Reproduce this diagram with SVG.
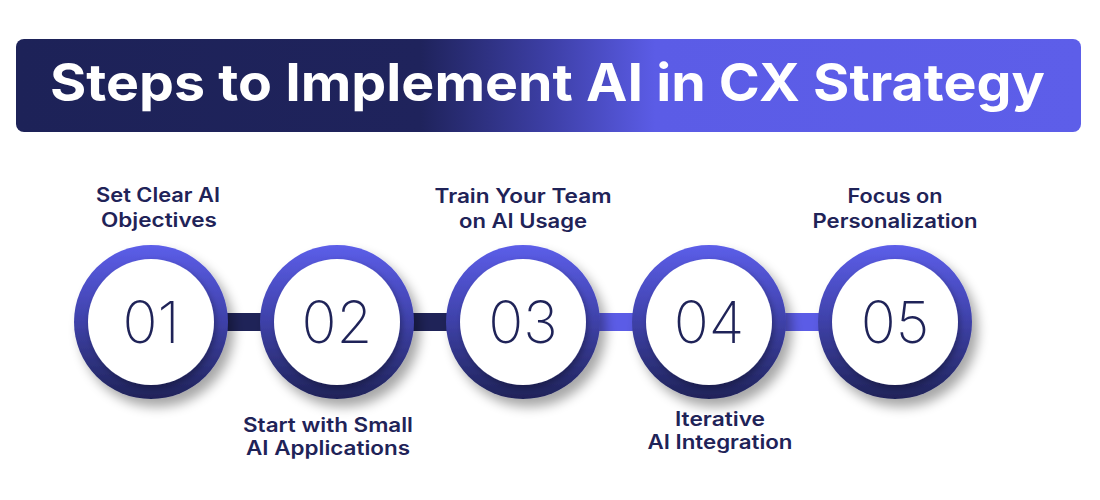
<svg xmlns="http://www.w3.org/2000/svg" width="1100" height="500" viewBox="0 0 1100 500">
<defs>
<linearGradient id="bannerGrad" x1="0" y1="0" x2="1" y2="0">
<stop offset="0" stop-color="#1d2258"/>
<stop offset="0.38" stop-color="#1f235c"/>
<stop offset="0.5" stop-color="#3d3fa6"/>
<stop offset="0.6" stop-color="#5b5ce6"/>
<stop offset="1" stop-color="#5d5ee9"/>
</linearGradient>
<linearGradient id="ringGrad" x1="0" y1="0" x2="0" y2="1">
<stop offset="0" stop-color="#5c5ee9"/>
<stop offset="0.5" stop-color="#3e41a8"/>
<stop offset="1" stop-color="#1f2358"/>
</linearGradient>
<filter id="shadow" x="-30%" y="-30%" width="160%" height="160%">
<feGaussianBlur in="SourceAlpha" stdDeviation="6"/>
<feOffset dx="6" dy="8"/>
<feComponentTransfer><feFuncA type="linear" slope="0.35"/></feComponentTransfer>
<feMerge><feMergeNode/><feMergeNode in="SourceGraphic"/></feMerge>
</filter>
<filter id="innerShadow" x="-30%" y="-30%" width="160%" height="160%">
<feGaussianBlur in="SourceAlpha" stdDeviation="3"/>
<feOffset dx="2" dy="3"/>
<feComponentTransfer><feFuncA type="linear" slope="0.3"/></feComponentTransfer>
<feMerge><feMergeNode/><feMergeNode in="SourceGraphic"/></feMerge>
</filter>
</defs>
<style>
.title{font-family:"Inter","Liberation Sans",sans-serif;font-weight:700;font-size:52px;fill:#ffffff;}
.label{font-family:"Inter","Liberation Sans",sans-serif;font-weight:600;font-size:19.5px;fill:#1f2358;text-anchor:middle;}
.num{font-family:"Inter","Liberation Sans",sans-serif;font-weight:200;font-size:58px;fill:#1f2358;text-anchor:middle;}
.ring{fill:url(#ringGrad);filter:url(#shadow);}
.inner{fill:#ffffff;filter:url(#innerShadow);}
.dark{fill:#1f2358;}
.light{fill:#5b5ce6;}
</style>
<rect width="1100" height="500" fill="#ffffff"/>
<g id="banner">
<rect x="16" y="39" width="1065" height="93" rx="8" fill="url(#bannerGrad)"/>
<text class="title" x="50" y="101" textLength="995" lengthAdjust="spacingAndGlyphs">Steps to Implement AI in CX Strategy</text>
</g>
<g id="connectors">
<rect class="dark" x="215" y="313" width="60" height="18"/>
<rect class="dark" x="400" y="313" width="60" height="18"/>
<rect class="light" x="586" y="313" width="60" height="18"/>
<rect class="light" x="772" y="313" width="60" height="18"/>
</g>
<g id="step1">
<circle class="ring" cx="151" cy="322" r="77"/>
<circle class="inner" cx="151" cy="322" r="63"/>
<text class="num" x="151" y="343">01</text>
<text class="label" x="158" y="202" textLength="124" lengthAdjust="spacingAndGlyphs">Set Clear AI</text>
<text class="label" x="159" y="227" textLength="116" lengthAdjust="spacingAndGlyphs">Objectives</text>
</g>
<g id="step2">
<circle class="ring" cx="337" cy="322" r="77"/>
<circle class="inner" cx="337" cy="322" r="63"/>
<text class="num" x="337" y="343">02</text>
<text class="label" x="328" y="432" textLength="170" lengthAdjust="spacingAndGlyphs">Start with Small</text>
<text class="label" x="328" y="455" textLength="164" lengthAdjust="spacingAndGlyphs">AI Applications</text>
</g>
<g id="step3">
<circle class="ring" cx="523" cy="322" r="77"/>
<circle class="inner" cx="523" cy="322" r="63"/>
<text class="num" x="523" y="343">03</text>
<text class="label" x="523" y="203" textLength="177" lengthAdjust="spacingAndGlyphs">Train Your Team</text>
<text class="label" x="523" y="228" textLength="128" lengthAdjust="spacingAndGlyphs">on AI Usage</text>
</g>
<g id="step4">
<circle class="ring" cx="709" cy="322" r="77"/>
<circle class="inner" cx="709" cy="322" r="63"/>
<text class="num" x="709" y="343">04</text>
<text class="label" x="720" y="426" textLength="90" lengthAdjust="spacingAndGlyphs">Iterative</text>
<text class="label" x="720" y="449" textLength="145" lengthAdjust="spacingAndGlyphs">AI Integration</text>
</g>
<g id="step5">
<circle class="ring" cx="895" cy="322" r="77"/>
<circle class="inner" cx="895" cy="322" r="63"/>
<text class="num" x="895" y="343">05</text>
<text class="label" x="895" y="203" textLength="95" lengthAdjust="spacingAndGlyphs">Focus on</text>
<text class="label" x="895" y="228" textLength="165" lengthAdjust="spacingAndGlyphs">Personalization</text>
</g>
</svg>
